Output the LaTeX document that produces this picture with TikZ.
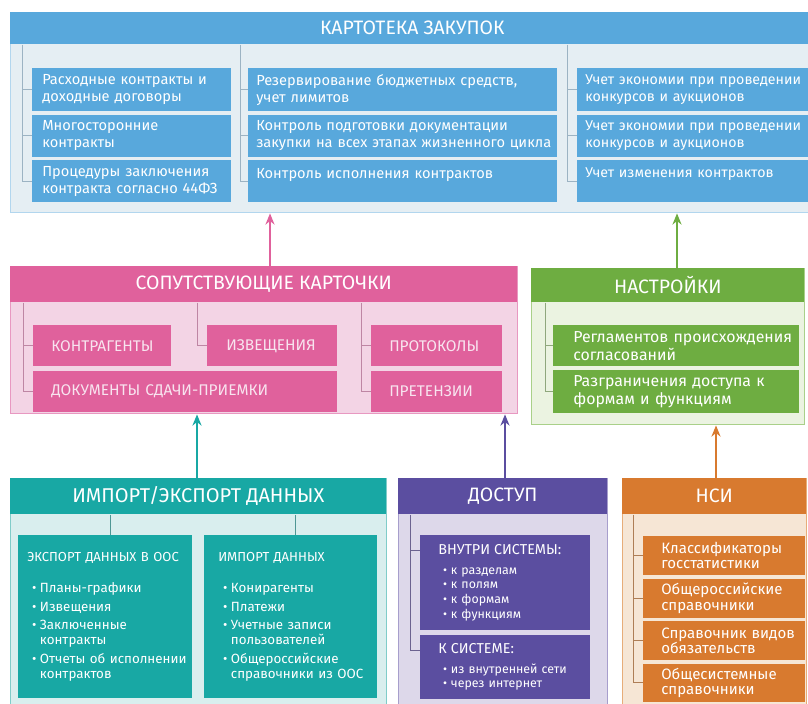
\documentclass[tikz,border=0pt]{standalone}
\usepackage{fontspec}
\setmainfont{Fira Sans}
\usepackage{xcolor}
\usepackage{tikz}
\usetikzlibrary{arrows.meta,positioning,calc}

\definecolor{kb}{HTML}{58A8DC}
\definecolor{kbbg}{HTML}{E5EEF3}
\definecolor{kbln}{HTML}{B2D6EE}
\definecolor{kbtr}{HTML}{9CB3C3}
\definecolor{kp}{HTML}{E0619C}
\definecolor{kpbg}{HTML}{F3D4E5}
\definecolor{kpln}{HTML}{E898C1}
\definecolor{kptr}{HTML}{BE86A4}
\definecolor{kptx}{HTML}{F8E4EF}
\definecolor{kg}{HTML}{6EAD41}
\definecolor{kgbg}{HTML}{EBF3E1}
\definecolor{kgln}{HTML}{A9D089}
\definecolor{kgtr}{HTML}{8FA77D}
\definecolor{kt}{HTML}{18A8A4}
\definecolor{ktbg}{HTML}{D9EEEE}
\definecolor{ktln}{HTML}{80CCC9}
\definecolor{kttr}{HTML}{4F9694}
\definecolor{kv}{HTML}{5B4EA0}
\definecolor{kvbg}{HTML}{DDD8EA}
\definecolor{kvln}{HTML}{A79ECC}
\definecolor{kvtr}{HTML}{6B6290}
\definecolor{ko}{HTML}{D87A2F}
\definecolor{kobg}{HTML}{F6E6D5}
\definecolor{koln}{HTML}{E7AD79}
\definecolor{kotr}{HTML}{AE7E56}

\newcommand\pxu{0.025cm}
\newcommand\bitem[2][2.8pt]{\par\vspace{#1}\hangindent=9pt\hangafter=1\noindent
  \hspace*{3.5pt}\makebox[5.5pt][l]{\textbullet}#2}

\tikzset{
  panel/.style={
    rectangle, draw=#1ln, fill=#1bg, line width=1pt,
    anchor=north west, inner sep=0pt
  },
  header/.style={
    rectangle, fill=#1, text=white, anchor=north west,
    inner sep=0pt, font=\fontsize{13.8}{16}\selectfont
  },
  item/.style={
    rectangle, fill=#1, text=white, anchor=north west,
    inner ysep=0pt, align=left, font=\fontsize{10.4}{12}\selectfont
  },
  wh/.style 2 args={minimum width=#1*\pxu, minimum height=#2*\pxu},
  cell/.style n args={3}{
    minimum width=#1*\pxu, minimum height=#2*\pxu,
    inner xsep=#3*\pxu, text width=(#1-2*#3)*\pxu
  },
  tree/.style={draw=#1tr, line width=0.7pt},
  uparrow/.style={-{Stealth[length=8pt,width=6.5pt]}, line width=1.1pt, draw=#1},
}

\begin{document}
\begin{tikzpicture}[x=\pxu, y=-\pxu]
  \clip (0,0) rectangle (808,703);

  % Картотека закупок
  \node[panel=kb, wh={804}{200}] (kart) at (10,12) {};
  \node[header=kb, wh={804}{32}] (kartH) at (kart.north west) {КАРТОТЕКА ЗАКУПОК};

  \node[item=kb, cell={199}{43}{10}] (k11) at (32,68) {Расходные контракты и\\доходные договоры};
  \node[item=kb, cell={199}{42}{10}, below=0.075cm of k11] (k12) {Многосторонние\\контракты};
  \node[item=kb, cell={199}{42}{10}, below=0.075cm of k12] (k13) {Процедуры заключения\\\mbox{контракта согласно 44ФЗ}};

  \node[item=kb, cell={309}{43}{8}] (k21) at (248,68) {Резервирование бюджетных средств,\\учет лимитов};
  \node[item=kb, cell={309}{42}{8}, below=0.075cm of k21] (k22) {Контроль подготовки документации\\\mbox{закупки на всех этапах жизненного цикла}};
  \node[item=kb, cell={309}{42}{8}, below=0.075cm of k22] (k23) {Контроль исполнения контрактов\\\mbox{}};

  \node[item=kb, cell={237}{43}{8}, font=\fontsize{10.1}{12}\selectfont] (k31) at (577,68) {\mbox{Учет экономии при проведении}\\конкурсов и аукционов};
  \node[item=kb, cell={237}{42}{8}, font=\fontsize{10.1}{12}\selectfont, below=0.075cm of k31] (k32) {\mbox{Учет экономии при проведении}\\конкурсов и аукционов};
  \node[item=kb, cell={237}{42}{8}, font=\fontsize{10.1}{12}\selectfont, below=0.075cm of k32] (k33) {Учет изменения контрактов\\\mbox{}};

  \coordinate (t1) at ($(k11.west)+(-10,0)$);
  \draw[tree=kb] (t1 |- kartH.south) |- (k13.west);
  \draw[tree=kb] (t1 |- k11.west) -- (k11.west);
  \draw[tree=kb] (t1 |- k12.west) -- (k12.west);
  \coordinate (t2) at ($(k21.west)+(-8,0)$);
  \draw[tree=kb] (t2 |- kartH.south) |- (k23.west);
  \draw[tree=kb] (t2 |- k21.west) -- (k21.west);
  \draw[tree=kb] (t2 |- k22.west) -- (k22.west);
  \coordinate (t3) at ($(k31.west)+(-10,0)$);
  \draw[tree=kb] (t3 |- kartH.south) |- (k33.west);
  \draw[tree=kb] (t3 |- k31.west) -- (k31.west);
  \draw[tree=kb] (t3 |- k32.west) -- (k32.west);

  % Сопутствующие карточки
  \node[panel=kp, wh={507}{147}] (sop) at (10,266) {};
  \node[header=kp, wh={507}{36}] (sopH) at (sop.north west) {СОПУТСТВУЮЩИЕ КАРТОЧКИ};

  \node[item=kp, text=kptx, cell={138}{41}{18}, font=\fontsize{11}{13}\selectfont] (p1) at (33,325) {КОНТРАГЕНТЫ};
  \node[item=kp, text=kptx, cell={304}{41}{18}, font=\fontsize{11}{13}\selectfont, below=0.1cm of p1.south west, anchor=north west] (p3) {ДОКУМЕНТЫ СДАЧИ-ПРИЕМКИ};
  \node[item=kp, text=kptx, cell={130}{41}{19}, font=\fontsize{11}{13}\selectfont] (p2) at (207,325) {ИЗВЕЩЕНИЯ};
  \node[item=kp, text=kptx, cell={131}{41}{18}, font=\fontsize{11}{13}\selectfont] (p4) at (371,325) {ПРОТОКОЛЫ};
  \node[item=kp, text=kptx, cell={131}{41}{18}, font=\fontsize{11}{13}\selectfont, below=0.1cm of p4] (p5) {ПРЕТЕНЗИИ};

  \coordinate (t4) at ($(p1.west)+(-10,0)$);
  \draw[tree=kp] (t4 |- sopH.south) |- (p3.west);
  \draw[tree=kp] (t4 |- p1.west) -- (p1.west);
  \coordinate (t5) at ($(p2.west)+(-10,0)$);
  \draw[tree=kp] (t5 |- sopH.south) |- (p2.west);
  \coordinate (t6) at ($(p4.west)+(-10,0)$);
  \draw[tree=kp] (t6 |- sopH.south) |- (p5.west);
  \draw[tree=kp] (t6 |- p4.west) -- (p4.west);

  % Настройки
  \node[panel=kg, wh={273}{156}] (nas) at (531,268) {};
  \node[header=kg, wh={273}{34}] (nasH) at (nas.north west) {НАСТРОЙКИ};

  \node[item=kg, cell={246}{41}{20}, font=\fontsize{11.3}{12.7}\selectfont] (g1) at (553,325) {\mbox{Регламентов происхождения}\\согласований};
  \node[item=kg, cell={246}{43}{20}, font=\fontsize{11.3}{12.7}\selectfont, below=0.075cm of g1] (g2) {Разграничения доступа к\\формам и функциям};

  \coordinate (t7) at ($(g1.west)+(-8,0)$);
  \draw[tree=kg] (t7 |- nasH.south) |- (g2.west);
  \draw[tree=kg] (t7 |- g1.west) -- (g1.west);

  % Импорт/экспорт данных
  \node[panel=kt, wh={376}{240}] (imp) at (10,478) {};
  \node[header=kt, wh={376}{36}, font=\fontsize{14.2}{16}\selectfont] (impH) at (imp.north west) {ИМПОРТ/ЭКСПОРТ ДАННЫХ};

  \node[item=kt, cell={174}{163}{9}, font=\fontsize{9.5}{10.6}\selectfont] (exo) at (18,535)
    {{\fontsize{9.3}{10}\selectfont ЭКСПОРТ ДАННЫХ В ООС}\par\vspace{8.6pt}%
     \bitem{Планы-графики}\bitem{Извещения}%
     \bitem{Заключенные\newline контракты}\bitem{\mbox{Отчеты об исполнении}\newline контрактов}\par};
  \node[item=kt, cell={173}{163}{14}, font=\fontsize{9.5}{10.6}\selectfont] (imo) at (204,535)
    {{\fontsize{9.3}{10}\selectfont ИМПОРТ ДАННЫХ}\par\vspace{8.6pt}%
     \bitem{Конирагенты}\bitem{Платежи}%
     \bitem{Учетные записи\newline пользователей}\bitem{Общероссийские\newline \mbox{справочники из ООС}}\par};

  \coordinate (s1) at ($(exo.north)+(5,0)$);
  \draw[tree=kt] (s1 |- impH.south) -- (s1);
  \coordinate (s2) at ($(imo.north)+(5,0)$);
  \draw[tree=kt] (s2 |- impH.south) -- (s2);

  % Доступ
  \node[panel=kv, wh={209}{240}] (dos) at (398,478) {};
  \node[header=kv, wh={209}{36}] (dosH) at (dos.north west) {ДОСТУП};

  \node[item=kv, cell={170}{95}{18}, font=\fontsize{8.8}{10.6}\selectfont] (dv) at (420,535)
    {{\fontsize{10.2}{12}\selectfont ВНУТРИ СИСТЕМЫ:}\par\vspace{3.5pt}%
     \bitem[0pt]{к разделам}\bitem[0pt]{к полям}\bitem[0pt]{к формам}\bitem[0pt]{к функциям}\par};
  \node[item=kv, cell={170}{64}{18}, font=\fontsize{8.8}{10.6}\selectfont, below=0.1cm of dv] (dk)
    {{\fontsize{10.2}{12}\selectfont К СИСТЕМЕ:}\par\vspace{3.5pt}%
     \bitem[0pt]{из внутренней сети}\bitem[0pt]{через интернет}\par};

  \coordinate (t8) at ($(dv.north west)+(-10,15)$);
  \draw[tree=kv] (t8 |- dosH.south) |- ($(dk.north west)+(0,16)$);
  \draw[tree=kv] (t8) -- ($(dv.north west)+(0,15)$);

  % НСИ
  \node[panel=ko, wh={184}{240}] (nsi) at (622,478) {};
  \node[header=ko, wh={184}{36}] (nsiH) at (nsi.north west) {НСИ};

  \node[item=ko, cell={162}{39}{18}, font=\fontsize{10.7}{10.8}\selectfont] (n1) at (643,536) {Классификаторы\\госстатистики};
  \node[item=ko, cell={162}{39}{18}, font=\fontsize{10.7}{10.8}\selectfont, below=0.075cm of n1] (n2) {Общероссийские\\справочники};
  \node[item=ko, cell={162}{39}{18}, font=\fontsize{10.7}{10.8}\selectfont, below=0.075cm of n2] (n3) {\mbox{Справочник видов}\\обязательств};
  \node[item=ko, cell={162}{38}{18}, font=\fontsize{10.7}{10.8}\selectfont, below=0.075cm of n3] (n4) {Общесистемные\\справочники};

  \coordinate (t10) at ($(n1.west)+(-10,0)$);
  \draw[tree=ko] (t10 |- nsiH.south) |- (n4.west);
  \draw[tree=ko] (t10 |- n1.west) -- (n1.west);
  \draw[tree=ko] (t10 |- n2.west) -- (n2.west);
  \draw[tree=ko] (t10 |- n3.west) -- (n3.west);

  % Arrows between blocks
  \coordinate (aSop) at ($(sop.north west)+(260,0)$);
  \draw[uparrow=kp] (aSop) -- (aSop |- kart.south);
  \coordinate (aNas) at ($(nas.north west)+(146,0)$);
  \draw[uparrow=kg] (aNas) -- (aNas |- kart.south);
  \coordinate (aImp) at ($(imp.north west)+(187,0)$);
  \draw[uparrow=kt] (aImp) -- (aImp |- sop.south);
  \coordinate (aDos) at ($(dos.north west)+(107,0)$);
  \draw[uparrow=kv] (aDos) -- (aDos |- sop.south);
  \coordinate (aNsi) at ($(nsi.north west)+(94,0)$);
  \draw[uparrow=ko] (aNsi) -- (aNsi |- nas.south);

\end{tikzpicture}
\end{document}
